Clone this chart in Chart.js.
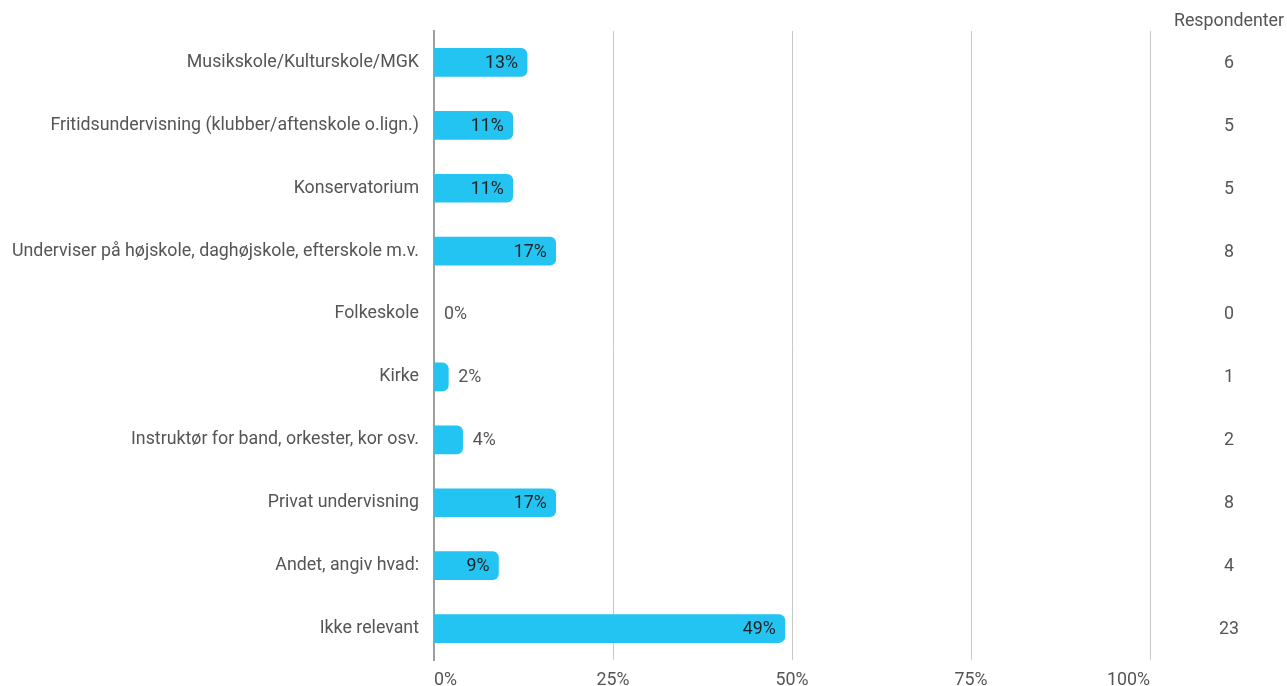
<!DOCTYPE html>
<html>
<head>
<meta charset="utf-8">
<script src="https://cdn.jsdelivr.net/npm/chart.js@4"></script>
<style>
  html, body { margin: 0; padding: 0; background: #fff; }
  #wrap { width: 1287px; height: 686px; position: relative; }
</style>
</head>
<body>
<div id="wrap"><canvas id="chart"></canvas></div>
<script>
const categories = [
    'Musikskole/Kulturskole/MGK',
    'Fritidsundervisning (klubber/aftenskole o.lign.)',
    'Konservatorium',
    'Underviser på højskole, daghøjskole, efterskole m.v.',
    'Folkeskole',
    'Kirke',
    'Instruktør for band, orkester, kor osv.',
    'Privat undervisning',
    'Andet, angiv hvad:',
    'Ikke relevant'
];
const percentValues = [13, 11, 11, 17, 0, 2, 4, 17, 9, 49];
const respondents = [6, 5, 5, 8, 0, 1, 2, 8, 4, 23];
const respondentsTitle = 'Respondenter';

const FONT = 'Roboto, "Noto Sans", sans-serif';
const SIZE = 17.8;

// Draws the % labels on the bars and the respondent column to the right
const labelsPlugin = {
    id: 'labels',
    afterDatasetsDraw(chart) {
        const ctx = chart.ctx;
        const meta = chart.getDatasetMeta(0);
        const area = chart.chartArea;
        const colX = 1229;
        ctx.save();
        ctx.font = SIZE + 'px ' + FONT;
        ctx.textBaseline = 'middle';

        meta.data.forEach((bar, i) => {
            const txt = percentValues[i] + '%';
            const w = ctx.measureText(txt).width;
            const barW = bar.x - bar.base;
            if (barW > w + 20) {
                ctx.fillStyle = '#222';
                ctx.textAlign = 'right';
                ctx.fillText(txt, bar.x - 9, bar.y + 1);
            } else {
                ctx.fillStyle = '#555';
                ctx.textAlign = 'left';
                ctx.fillText(txt, bar.x + 10, bar.y + 1);
            }
            ctx.fillStyle = '#555';
            ctx.textAlign = 'center';
            ctx.fillText(String(respondents[i]), colX, bar.y + 1);
        });

        ctx.fillStyle = '#555';
        ctx.textAlign = 'center';
        ctx.fillText(respondentsTitle, colX, area.top - 9);
        ctx.restore();
    }
};

new Chart(document.getElementById('chart'), {
    type: 'bar',
    data: {
        labels: categories,
        datasets: [{
            data: percentValues,
            backgroundColor: c => (c.raw === 0 ? 'rgba(0,0,0,0)' : '#23c4f2'),
            barThickness: 28,
            borderRadius: 6,
            borderSkipped: 'start'
        }]
    },
    options: {
        indexAxis: 'y',
        responsive: true,
        maintainAspectRatio: false,
        animation: false,
        layout: { padding: { top: 31, right: 137, left: 0, bottom: 0 } },
        plugins: {
            legend: { display: false },
            tooltip: { enabled: false }
        },
        scales: {
            x: {
                min: 0,
                max: 100,
                ticks: {
                    stepSize: 25,
                    align: 'inner',
                    padding: 10,
                    color: '#555',
                    font: { family: FONT, size: SIZE },
                    callback: v => v + '%'
                },
                grid: { color: '#c8c8c8', lineWidth: 1, drawTicks: false },
                border: { display: false },
                afterFit(scale) { scale.height = 26; }
            },
            y: {
                ticks: {
                    padding: 15,
                    color: '#555',
                    font: { family: FONT, size: SIZE }
                },
                grid: { display: false, drawTicks: false },
                border: { display: true, color: '#9e9e9e', width: 2 },
                afterFit(scale) { scale.width = 434; }
            }
        }
    },
    plugins: [labelsPlugin]
});
</script>
</body>
</html>
